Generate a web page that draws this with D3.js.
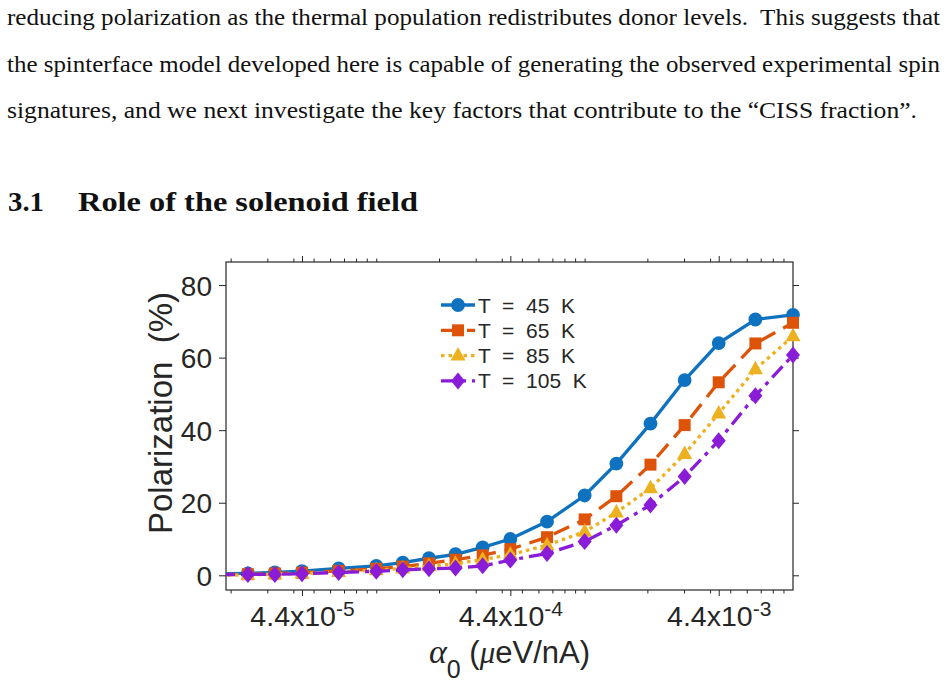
<!DOCTYPE html>
<html>
<head>
<meta charset="utf-8">
<script src="https://cdn.jsdelivr.net/npm/d3@7"></script>
<style>
body { margin: 0; background: #fff; }
svg { display: block; }
</style>
</head>
<body>
<svg></svg>
<script>
// data
var alpha0 = [1.78e-5, 2.42e-5, 3.26e-5, 4.4e-5, 6.6e-5, 1e-4, 1.34e-4, 1.79e-4, 2.4e-4, 3.24e-4,
              4.4e-4, 6.6e-4, 1e-3, 1.42e-3, 2.07e-3, 3.02e-3, 4.4e-3, 6.6e-3, 1e-2];
var pol45  = [0.45, 0.55, 0.8, 1.15, 1.9, 2.6, 3.5, 4.7, 5.8, 7.7, 10.0, 14.8, 22.0, 30.8, 41.8, 53.8, 64.0, 70.5, 71.8];
var pol65  = [0.2, 0.3, 0.5, 0.7, 1.2, 1.8, 2.4, 3.3, 4.3, 5.5, 7.2, 10.5, 15.4, 21.8, 30.5, 41.4, 53.2, 63.9, 69.6];
var pol85  = [0.05, 0.1, 0.3, 0.5, 0.9, 1.4, 1.9, 2.5, 3.2, 4.3, 5.7, 8.3, 12.0, 17.3, 24.0, 33.4, 44.6, 56.8, 65.9];
var pol105 = [0.2, 0.25, 0.25, 0.45, 0.8, 1.1, 1.5, 1.8, 2.0, 2.6, 4.2, 6.0, 9.3, 13.8, 19.4, 27.2, 37.1, 49.5, 60.7];
var seriesNames = ["T  =  45  K", "T  =  65  K", "T  =  85  K", "T  =  105  K"];

var yTicks = [0, 20, 40, 60, 80];
var xMajorTicks = [4.4e-5, 4.4e-4, 4.4e-3];
var xMajorMant = ["4.4x10", "4.4x10", "4.4x10"];
var xMajorExp = ["-5", "-4", "-3"];

var paperLines = [
  "reducing polarization as the thermal population redistributes donor levels.  This suggests that",
  "the spinterface model developed here is capable of generating the observed experimental spin",
  "signatures, and we next investigate the key factors that contribute to the \u201cCISS fraction\u201d."
];
var sectionNum = "3.1";
var sectionTitle = "Role of the solenoid field";

var W = 947, H = 687;
var box = {left: 226, right: 793, top: 262, bottom: 590};
var ink = "#262626";

var svg = d3.select("svg").attr("width", W).attr("height", H);

// paper text above the figure
var lineWidths = [933, 933, 910];
svg.selectAll(".para")
    .data(paperLines)
  .enter().append("text")
    .attr("class", "para")
    .attr("x", 7)
    .attr("y", function(d, i) { return 25 + i * 46.5; })
    .attr("textLength", function(d, i) { return lineWidths[i]; })
    .attr("lengthAdjust", "spacingAndGlyphs")
    .style("font-family", "'Liberation Serif', serif")
    .style("font-size", "23.5px")
    .style("fill", "#111")
    .style("white-space", "pre")
    .text(function(d) { return d; });

svg.append("text")
    .attr("x", 8).attr("y", 211)
    .attr("textLength", 36).attr("lengthAdjust", "spacingAndGlyphs")
    .style("font-family", "'Liberation Serif', serif")
    .style("font-weight", "bold").style("font-size", "28px").style("fill", "#111")
    .text(sectionNum);
svg.append("text")
    .attr("x", 78).attr("y", 211)
    .attr("textLength", 340).attr("lengthAdjust", "spacingAndGlyphs")
    .style("font-family", "'Liberation Serif', serif")
    .style("font-weight", "bold").style("font-size", "28px").style("fill", "#111")
    .text(sectionTitle);

// scales
var x = d3.scaleLog().domain([1.9e-5, 1e-2]).range([box.left, box.right]);
var y = d3.scaleLinear().domain([-4.05, 86.35]).range([box.bottom, box.top]);

var minorTicks = [];
[-5, -4, -3].forEach(function(e) {
  for (var k = 1; k <= 9; k++) {
    var v = k * Math.pow(10, e);
    if (v >= 1.9e-5 && v <= 1e-2) minorTicks.push(v);
  }
});

var g = svg.append("g").style("font-family", "'Liberation Sans', Arial, sans-serif");

function styleAxis(sel) {
  sel.select(".domain").remove();
  sel.selectAll(".tick line").attr("stroke", ink).attr("stroke-width", 1);
  sel.selectAll(".tick text").style("fill", ink);
}

// x axes, bottom and top
g.append("g").attr("transform", "translate(0," + box.bottom + ")")
    .call(d3.axisBottom(x).tickValues(minorTicks).tickSize(3.5).tickFormat(""))
    .call(styleAxis);
g.append("g").attr("transform", "translate(0," + box.top + ")")
    .call(d3.axisTop(x).tickValues(minorTicks).tickSize(3.5).tickFormat(""))
    .call(styleAxis);
g.append("g").attr("transform", "translate(0," + box.top + ")")
    .call(d3.axisTop(x).tickValues(xMajorTicks).tickSize(6).tickFormat(""))
    .call(styleAxis);
var xb = g.append("g").attr("transform", "translate(0," + box.bottom + ")")
    .call(d3.axisBottom(x).tickValues(xMajorTicks).tickSize(6).tickPadding(30).tickFormat(""))
    .call(styleAxis);
xb.selectAll(".tick text")
    .attr("y", 36).attr("dy", null)
    .style("font-size", "28.5px")
    .each(function(d, i) {
      var t = d3.select(this);
      t.append("tspan").text(xMajorMant[i]);
      t.append("tspan").attr("dy", -10).style("font-size", "21px").text(xMajorExp[i]);
    });

// y axes, left and right
var yl = g.append("g").attr("transform", "translate(" + box.left + ",0)")
    .call(d3.axisLeft(y).tickValues(yTicks).tickSize(7).tickPadding(7))
    .call(styleAxis);
yl.selectAll(".tick text").style("font-size", "28px").attr("dy", "0.36em");
g.append("g").attr("transform", "translate(" + box.right + ",0)")
    .call(d3.axisRight(y).tickValues(yTicks).tickSize(6).tickFormat(""))
    .call(styleAxis);

g.append("rect")
    .attr("x", box.left).attr("y", box.top)
    .attr("width", box.right - box.left).attr("height", box.bottom - box.top)
    .attr("fill", "none").attr("stroke", ink).attr("stroke-width", 1.2);

// axis titles
var xt = g.append("text")
    .attr("x", (box.left + box.right) / 2).attr("y", 663)
    .attr("text-anchor", "middle")
    .style("font-size", "31px").style("fill", ink)
    .style("white-space", "pre");
xt.append("tspan").style("font-family", "'Liberation Serif', serif").style("font-style", "italic").style("font-size", "34px").text("\u03b1");
xt.append("tspan").attr("dy", 15).style("font-size", "25px").text("0");
xt.append("tspan").attr("dy", -15).text(" (");
xt.append("tspan").style("font-family", "'Liberation Serif', serif").style("font-style", "italic").text("\u03bc");
xt.append("tspan").text("eV/nA)");

g.append("text")
    .attr("transform", "translate(172," + 413 + ") rotate(-90)")
    .attr("text-anchor", "middle")
    .style("font-size", "33px").style("fill", ink)
    .style("white-space", "pre")
    .text("Polarization  (%)");

// series
var series = [
  {name: seriesNames[0], values: pol45,  color: "#0f72c0", dash: null,          marker: "circle"},
  {name: seriesNames[1], values: pol65,  color: "#dd5409", dash: "17,9",        marker: "square"},
  {name: seriesNames[2], values: pol85,  color: "#edb120", dash: "3.5,4",       marker: "triangle"},
  {name: seriesNames[3], values: pol105, color: "#8a1bd6", dash: "15,6,4,6",    marker: "diamond"}
];

var markerPath = {
  circle: d3.symbol().type(d3.symbolCircle).size(150)(),
  square: "M-6,-6H6V6H-6Z",
  triangle: "M0,-8.5L7.5,5L-7.5,5Z",
  diamond: "M0,-8.5L7,0L0,8.5L-7,0Z"
};

svg.append("clipPath").attr("id", "plotclip")
  .append("rect")
    .attr("x", box.left).attr("y", box.top)
    .attr("width", box.right - box.left).attr("height", box.bottom - box.top);

var line = d3.line()
    .x(function(d) { return x(d[0]); })
    .y(function(d) { return y(d[1]); });

var plot = svg.append("g");

series.forEach(function(s) {
  var pts = alpha0.map(function(a, i) { return [a, s.values[i]]; });
  plot.append("path")
      .datum(pts)
      .attr("clip-path", "url(#plotclip)")
      .attr("d", line)
      .attr("fill", "none")
      .attr("stroke", s.color)
      .attr("stroke-width", 3.3)
      .attr("stroke-dasharray", s.dash);
  plot.selectAll(null)
      .data(pts.filter(function(d) { return d[0] >= x.domain()[0]; }))
    .enter().append("path")
      .attr("transform", function(d) { return "translate(" + x(d[0]) + "," + y(d[1]) + ")"; })
      .attr("d", markerPath[s.marker])
      .attr("fill", s.color);
});

// legend
var legend = svg.append("g").attr("transform", "translate(441,305)");
var item = legend.selectAll(".item")
    .data(series)
  .enter().append("g")
    .attr("class", "item")
    .attr("transform", function(d, i) { return "translate(0," + (i * 25.3) + ")"; });
item.append("line")
    .attr("x1", 0).attr("x2", 34)
    .attr("stroke", function(d) { return d.color; })
    .attr("stroke-width", 3.3)
    .attr("stroke-dasharray", function(d) { return d.dash; });
item.append("path")
    .attr("transform", "translate(17,0)")
    .attr("d", function(d) { return markerPath[d.marker]; })
    .attr("fill", function(d) { return d.color; });
item.append("text")
    .attr("x", 37).attr("dy", "0.36em")
    .style("font-family", "'Liberation Sans', Arial, sans-serif")
    .style("font-size", "21px").style("fill", ink)
    .style("white-space", "pre")
    .text(function(d) { return d.name; });
</script>
</body>
</html>
